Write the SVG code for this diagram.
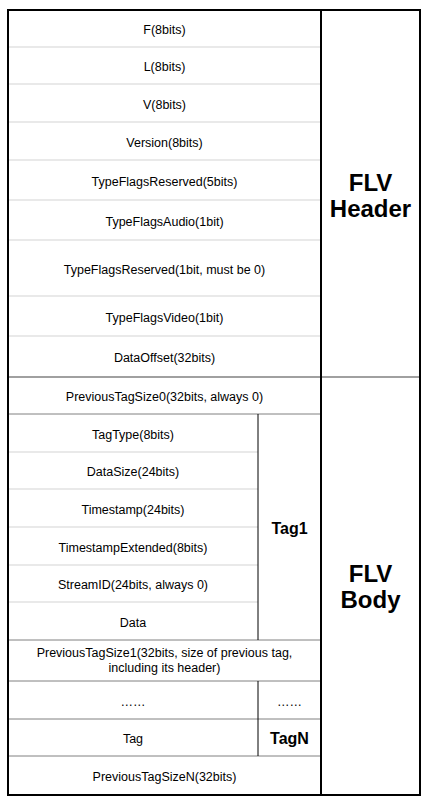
<svg xmlns="http://www.w3.org/2000/svg" width="430" height="802" viewBox="0 0 430 802">
<style>
  text { font-family: "Liberation Sans", Arial, sans-serif; fill: #000; text-anchor: middle; }
  .c { font-size: 12.5px; }
  .b { font-size: 16px; font-weight: bold; }
  .big { font-size: 24px; font-weight: bold; }
  .light { stroke: #d3d3d3; stroke-width: 1; fill: none; }
  .dark { stroke: #808080; stroke-width: 1; fill: none; }
  .thick { stroke: #000; stroke-width: 2; fill: none; }
  .thin { stroke: #000; stroke-width: 1; fill: none; }
</style>
<rect x="0" y="0" width="430" height="802" fill="#fff"/>
<g id="connectors">
  <path class="light" d="M8 47H321M8 84H321M8 122H321M8 160H321M8 200H321M8 240H321M8 296H321M8 336H321"/>
  <path class="light" d="M8 452H258M8 489H258M8 527H258M8 565H258M8 602H258"/>
  <path class="dark" d="M8 414H321M8 640H321M8 681H321M8 719H321M8 756H321"/>
  <path d="M8 377H420" stroke="#808080" stroke-width="1.6" fill="none"/>
  <path class="thin" d="M258 414V640M258 681V756"/>
  <path class="thick" d="M321 10V795"/>
  <rect class="thick" x="8" y="10" width="412" height="785"/>
</g>
<g id="header-fields">
  <g id="f"><text class="c" x="164.5" y="34">F(8bits)</text></g>
  <g id="l"><text class="c" x="164.5" y="71">L(8bits)</text></g>
  <g id="v"><text class="c" x="164.5" y="108.5">V(8bits)</text></g>
  <g id="version"><text class="c" x="164.5" y="146.5">Version(8bits)</text></g>
  <g id="tfr5"><text class="c" x="164.5" y="185.5">TypeFlagsReserved(5bits)</text></g>
  <g id="tfaudio"><text class="c" x="164.5" y="225.5">TypeFlagsAudio(1bit)</text></g>
  <g id="tfr1"><text class="c" x="164.5" y="273.5">TypeFlagsReserved(1bit, must be 0)</text></g>
  <g id="tfvideo"><text class="c" x="164.5" y="321.5">TypeFlagsVideo(1bit)</text></g>
  <g id="dataoffset"><text class="c" x="164.5" y="362">DataOffset(32bits)</text></g>
</g>
<g id="flv-header"><text class="big" x="370.5" y="190.5">FLV</text><text class="big" x="370.5" y="216.5">Header</text></g>
<g id="body-fields">
  <g id="pts0"><text class="c" x="164.5" y="401">PreviousTagSize0(32bits, always 0)</text></g>
  <g id="tagtype"><text class="c" x="133" y="438.5">TagType(8bits)</text></g>
  <g id="datasize"><text class="c" x="133" y="476">DataSize(24bits)</text></g>
  <g id="timestamp"><text class="c" x="133" y="513.5">Timestamp(24bits)</text></g>
  <g id="tsext"><text class="c" x="133" y="551.5">TimestampExtended(8bits)</text></g>
  <g id="streamid"><text class="c" x="133" y="589">StreamID(24bits, always 0)</text></g>
  <g id="data"><text class="c" x="133" y="626.5">Data</text></g>
  <g id="tag1"><text class="b" x="289.5" y="534">Tag1</text></g>
  <g id="pts1"><text class="c" x="164.5" y="657">PreviousTagSize1(32bits, size of previous tag,</text><text class="c" x="164.5" y="672">including its header)</text></g>
  <g id="dots"><text class="c" x="133" y="705.5">……</text></g>
  <g id="dots2"><text class="c" x="289.5" y="705.5">……</text></g>
  <g id="tag"><text class="c" x="133" y="743">Tag</text></g>
  <g id="tagn"><text class="b" x="289.5" y="743.5">TagN</text></g>
  <g id="ptsn"><text class="c" x="164.5" y="781">PreviousTagSizeN(32bits)</text></g>
</g>
<g id="flv-body"><text class="big" x="370.5" y="582">FLV</text><text class="big" x="370.5" y="608">Body</text></g>
</svg>
